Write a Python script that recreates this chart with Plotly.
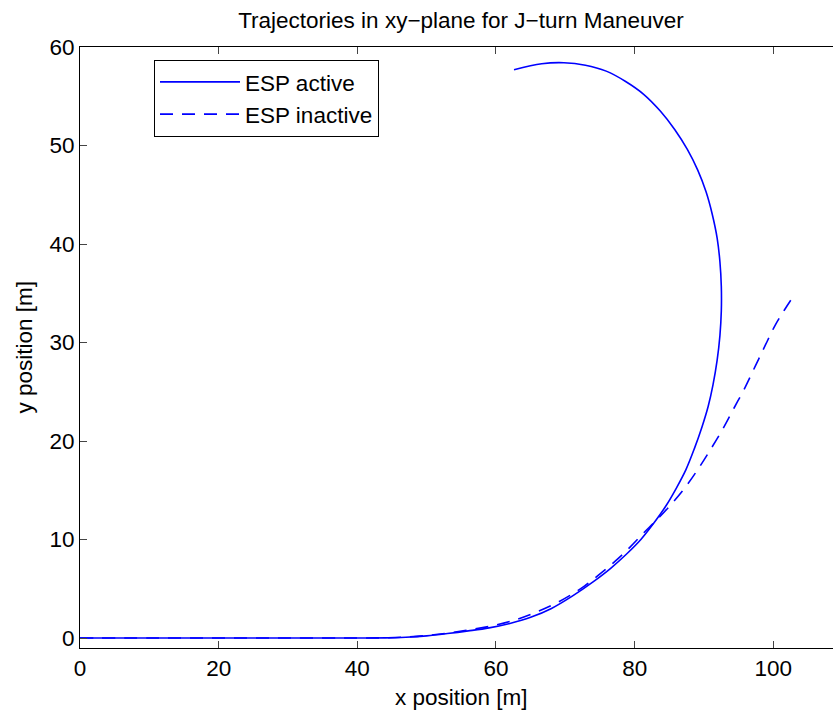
import plotly.graph_objects as go

# Vehicle trajectory samples (x, y in metres)
x_active = [0, 10, 20, 30, 40, 44, 47, 50, 53, 56, 59, 62, 65, 68, 71, 74, 76.5, 78.8, 80.9,
            82.8, 84.5, 86.0, 87.4, 88.6, 89.7, 90.6, 91.3, 91.9, 92.3, 92.5, 92.5, 92.3,
            91.9, 91.2, 90.3, 89.1, 87.6, 85.8, 83.7, 81.3, 78.7, 75.9, 72.9, 69.8, 66.6,
            62.6]
y_active = [0, 0, 0, 0, 0, 0.01, 0.08, 0.22, 0.45, 0.72, 1.03, 1.48, 2.1, 3.0, 4.25, 5.7, 7.05,
            8.5, 10.0, 11.7, 13.4, 15.2, 17.1, 19.2, 21.4, 23.5, 25.7, 28.2, 30.7, 33.2,
            35.7, 38.2, 40.6, 43.0, 45.3, 47.5, 49.6, 51.6, 53.5, 55.2, 56.5, 57.55, 58.15,
            58.4, 58.3, 57.7]

x_inactive = [0, 10, 20, 30, 40, 44, 47, 50, 53, 56, 59, 62, 65, 68, 70.5, 72.8, 75, 77.2,
              79.3, 81.2, 83.2, 85.3, 87.3, 89.2, 91.0, 92.7, 94.3, 95.9, 97.4, 98.9,
              100.3, 101.6, 102.9]
y_inactive = [0, 0, 0, 0, 0, 0.02, 0.1, 0.25, 0.5, 0.82, 1.17, 1.67, 2.4, 3.3, 4.25, 5.3,
              6.5, 7.8, 9.2, 10.6, 12.0, 13.6, 15.3, 17.2, 19.2, 21.2, 23.3, 25.4, 27.6,
              29.8, 31.8, 33.3, 34.7]

FONT = "Liberation Sans, Arial, Helvetica, sans-serif"
FS = 22.5
BLUE = "#0000ff"

fig = go.Figure()
fig.add_trace(go.Scatter(x=x_active, y=y_active, mode="lines", name="ESP active",
                         line=dict(color=BLUE, width=1.6, shape="spline", smoothing=1.0)))
fig.add_trace(go.Scatter(x=x_inactive, y=y_inactive, mode="lines", name="ESP inactive",
                         line=dict(color=BLUE, width=1.6, dash="13px,9px",
                                   shape="spline", smoothing=1.0)))

fig.update_layout(
    width=833, height=713,
    margin=dict(l=80, r=0, t=47, b=65),
    paper_bgcolor="white", plot_bgcolor="white",
    font=dict(family=FONT, size=FS, color="black"),
    showlegend=True,
    legend=dict(x=(154 - 80) / 753, y=(648.3 - 60) / 601.1, xanchor="left", yanchor="top",
                bordercolor="black", borderwidth=1, bgcolor="white",
                itemwidth=80, font=dict(family=FONT, size=FS, color="black"),
                tracegroupgap=0),
    title=dict(text="Trajectories in xy\u2212plane for J\u2212turn Maneuver",
               x=461 / 833, xref="container", xanchor="center",
               y=1 - 28 / 713, yref="container", yanchor="bottom",
               font=dict(family=FONT, size=FS, color="black")),
)

fig.update_xaxes(range=[0, 108.61], showgrid=False, zeroline=False,
                 showline=True, linecolor="black", linewidth=1, mirror="ticks",
                 ticks="inside", ticklen=7, tickcolor="#444", tickwidth=1,
                 tickvals=[0, 20, 40, 60, 80, 100], tickfont=dict(size=FS))
fig.update_yaxes(range=[-1.015, 60], showgrid=False, zeroline=False,
                 showline=True, linecolor="black", linewidth=1, mirror=False,
                 ticks="inside", ticklen=7, tickcolor="#444", tickwidth=1,
                 tickvals=[0, 10, 20, 30, 40, 50, 60], tickfont=dict(size=FS))

# Axis titles, centred on the full axes box
fig.add_annotation(text="x position [m]", xref="paper", yref="paper",
                   x=(461 - 80) / 753, y=-(712 - 648.3) / 601.1,
                   xanchor="center", yanchor="bottom", showarrow=False,
                   font=dict(family=FONT, size=FS, color="black"))
fig.add_annotation(text="y position [m]", xref="paper", yref="paper",
                   x=-(80 - 24) / 753, y=0.5, textangle=-90,
                   xanchor="center", yanchor="middle", showarrow=False,
                   font=dict(family=FONT, size=FS, color="black"))

fig.write_html("out.html")
